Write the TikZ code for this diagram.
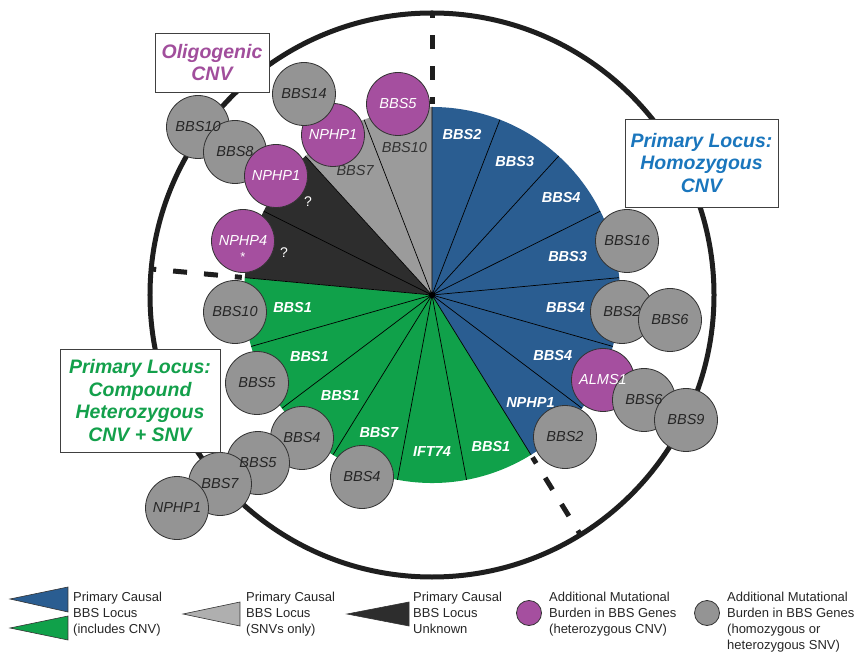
\documentclass[tikz,border=0pt]{standalone}
\usepackage{fontspec}
\setmainfont{Liberation Sans}
\usepackage{tikz}
\usetikzlibrary{positioning}
\usepackage{xcolor}
\definecolor{locusblue}{HTML}{2A5D91}
\definecolor{locusgreen}{HTML}{10A14A}
\definecolor{snvgray}{HTML}{9B9B9B}
\definecolor{unkblack}{HTML}{2D2D2D}
\definecolor{cnvpurple}{HTML}{A54F9F}
\definecolor{dotgray}{HTML}{949494}
\definecolor{titleblue}{HTML}{1A76BD}
\definecolor{titlegreen}{HTML}{13A04B}
\definecolor{titlepurple}{HTML}{A14E9C}
\definecolor{rim}{HTML}{1E1E1E}
\tikzset{
  divider/.style={draw=rim, line width=5pt, dash pattern=on 14pt off 17pt, dash phase=7pt},
  gene/.style={circle, draw=black!80, line width=0.8pt, minimum size=63pt, inner sep=0pt},
  cnv/.style={gene, fill=cnvpurple},
  snv/.style={gene, fill=dotgray},
  genetxt/.style={inner sep=0pt, font=\fontsize{14.5}{16}\selectfont\itshape, text=black!85},
  cnvtxt/.style={genetxt, text=white},
}

\begin{document}
\begin{tikzpicture}[x=1pt, y=1pt,
            tag/.style={font=\fontsize{14.5}{16}\selectfont\bfseries\itshape, text=white, inner sep=0pt},
            tagsnv/.style={tag, font=\fontsize{14.5}{16}\selectfont\itshape, text=black!80},
            spoke/.style={draw=black, line width=0.7pt},
            callout/.style={draw=black!75, line width=0.9pt, fill=white, align=center, inner sep=0pt, font=\fontsize{19.5}{22.5}\selectfont\bfseries\itshape},
            legtext/.style={align=left, inner sep=0pt, anchor=north west, font=\fontsize{13}{16}\selectfont, text=black!85},
            legwedge/.style={draw=black!80, line width=0.6pt}]
            \useasboundingbox (-432,-357) rectangle (426,295);

            % outer ring
            \draw[draw=rim, line width=5pt] (0,0) circle[radius=282pt];

            % pie, one colour per group
            \fill[locusblue] (0,0) -- (90:188) arc[start angle=90, end angle=-58.235, radius=188pt] -- cycle;
            \fill[locusgreen] (0,0) -- (-58.235:188) arc[start angle=-58.235, end angle=-185.294, radius=188pt] -- cycle;
            \fill[unkblack] (0,0) -- (174.706:188) arc[start angle=174.706, end angle=132.353, radius=188pt] -- cycle;
            \fill[snvgray] (0,0) -- (132.353:188) arc[start angle=132.353, end angle=90, radius=188pt] -- cycle;
            \draw[spoke] (0,0) -- (90:188) (0,0) -- (68.824:188) (0,0) -- (47.647:188)
                         (0,0) -- (26.471:188) (0,0) -- (5.294:188) (0,0) -- (-15.882:188)
                         (0,0) -- (-37.059:188) (0,0) -- (-58.235:188) (0,0) -- (-79.412:188)
                         (0,0) -- (-100.588:188) (0,0) -- (-121.765:188) (0,0) -- (-142.941:188)
                         (0,0) -- (-164.118:188) (0,0) -- (174.706:188) (0,0) -- (153.529:188)
                         (0,0) -- (132.353:188) (0,0) -- (111.176:188);

            \node[tag] (hom1) at (79.4:163) {BBS2};
            \node[tag] (hom2) at (58.2:157) {BBS3};
            \node[tag] (hom3) at (37.1:162) {BBS4};
            \node[tag] (hom4) at (15.9:141) {BBS3};
            \node[tag] (hom5) at (-5.3:134) {BBS4};
            \node[tag] (hom6) at (-26.5:135) {BBS4};
            \node[tag] (hom7) at (-47.6:146) {NPHP1};
            \node[tag] (cmp1) at (-68.8:163) {BBS1};
            \node[tag] (cmp2) at (-90:157) {IFT74};
            \node[tag] (cmp3) at (-111.2:147) {BBS7};
            \node[tag] (cmp4) at (-132.4:136) {BBS1};
            \node[tag] (cmp5) at (-153.5:137) {BBS1};
            \node[tag] (cmp6) at (-174.7:140) {BBS1};
            \node[tag, font=\fontsize{14}{15}\selectfont] (unk1) at (164.1:154) {?};
            \node[tag, font=\fontsize{14}{15}\selectfont] (unk2) at (143.1:155) {?};
            \node[tagsnv] (snv1) at (121.8:146) {BBS7};
            \node[tagsnv] (snv2) at (100.6:150) {BBS10};

            % extra burden, right side
            \node[snv] (bbs16) at (195,54) {};
            \node[snv] (bbs2a) at (190,-17) {};
            \node[snv] (bbs6a) at (238,-25) {};
            \node[cnv] (alms1) at (171,-85) {};
            \node[snv] (bbs6b) at (212,-105) {};
            \node[snv] (bbs9) at (254,-125) {};
            \node[snv] (bbs2b) at (133,-142) {};
            % extra burden, lower left
            \node[snv] (bbs4a) at (-70,-182) {};
            \node[snv] (bbs4b) at (-130,-143) {};
            \node[snv] (bbs5b) at (-174,-168) {};
            \node[snv] (bbs7c) at (-212,-189) {};
            \node[snv] (nphp1c) at (-255,-213) {};
            \node[snv] (bbs5a) at (-175,-88) {};
            \node[snv] (bbs10a) at (-197,-17) {};
            % extra burden, upper left
            \node[cnv] (nphp4) at (-189,54) {};
            \node[snv] (bbs10b) at (-234,168) {};
            \node[snv] (bbs8) at (-197,143) {};
            \node[cnv] (nphp1a) at (-156,119) {};
            \node[cnv] (nphp1b) at (-99,160) {};
            \node[snv] (bbs14) at (-128,201) {};
            \node[cnv] (bbs5) at (-34,191) {};

            % gene names go on top of every disc
            \node[genetxt] (bbs16-t) at (bbs16) {BBS16};
            \node[genetxt] (bbs2a-t) at (bbs2a) {BBS2};
            \node[genetxt] (bbs6a-t) at (bbs6a) {BBS6};
            \node[cnvtxt] (alms1-t) at (alms1) {ALMS1};
            \node[genetxt] (bbs6b-t) at (bbs6b) {BBS6};
            \node[genetxt] (bbs9-t) at (bbs9) {BBS9};
            \node[genetxt] (bbs2b-t) at (bbs2b) {BBS2};
            \node[genetxt] (bbs4a-t) at (bbs4a) {BBS4};
            \node[genetxt] (bbs4b-t) at (bbs4b) {BBS4};
            \node[genetxt] (bbs5b-t) at (bbs5b) {BBS5};
            \node[genetxt] (bbs7c-t) at (bbs7c) {BBS7};
            \node[genetxt] (nphp1c-t) at (nphp1c) {NPHP1};
            \node[genetxt] (bbs5a-t) at (bbs5a) {BBS5};
            \node[genetxt] (bbs10a-t) at (bbs10a) {BBS10};
            \node[cnvtxt] (nphp4-t) at (nphp4) {NPHP4};
            \node[cnvtxt, font=\fontsize{13}{14}\selectfont, below=11pt of nphp4.center] (nphp4star) {*};
            \node[genetxt] (bbs10b-t) at (bbs10b) {BBS10};
            \node[genetxt] (bbs8-t) at (bbs8) {BBS8};
            \node[cnvtxt] (nphp1a-t) at (nphp1a) {NPHP1};
            \node[cnvtxt] (nphp1b-t) at (nphp1b) {NPHP1};
            \node[genetxt] (bbs14-t) at (bbs14) {BBS14};
            \node[cnvtxt] (bbs5-t) at (bbs5) {BBS5};

            % group borders
            \draw[divider] (90:191) -- (90:283);
            \draw[divider] (174.706:191) -- (174.706:283);
            \draw[divider] (-58.235:191) -- (-58.235:283);

            \node[callout, text=titleblue, minimum width=153pt, minimum height=88pt] (homo) at (269.5,132) {Primary Locus:\\Homozygous\\CNV};
            \node[callout, text=titlegreen, minimum width=160pt, minimum height=103pt] (compound) at (-292,-105.5) {Primary Locus:\\Compound\\Heterozygous\\CNV + SNV};
            \node[callout, text=titlepurple, minimum width=114pt, minimum height=59pt] (oligo) at (-220,232.5) {Oligogenic\\CNV};

            % legend
            \draw[legwedge, fill=locusblue] (-422,-304) -- (-364,-292) -- (-364,-317) -- cycle;
            \draw[legwedge, fill=locusgreen] (-422,-333) -- (-364,-321) -- (-364,-345) -- cycle;
            \draw[legwedge, fill=snvgray!80] (-249,-319) -- (-192,-307) -- (-192,-331) -- cycle;
            \draw[legwedge, fill=unkblack] (-85,-319) -- (-23,-307) -- (-23,-331) -- cycle;
            \node[cnv, minimum size=25pt] (legcnv) at (97,-318) {};
            \node[snv, minimum size=25pt] (legsnv) at (275,-318) {};
            \node[legtext] (legA) at (-359,-297) {Primary Causal\\BBS Locus\\(includes CNV)};
            \node[legtext] (legB) at (-186,-297) {Primary Causal\\BBS Locus\\(SNVs only)};
            \node[legtext] (legC) at (-19,-297) {Primary Causal\\BBS Locus\\Unknown};
            \node[legtext] (legD) at (117,-297) {Additional Mutational\\Burden in BBS Genes\\(heterozygous CNV)};
            \node[legtext] (legE) at (295,-297) {Additional Mutational\\Burden in BBS Genes\\(homozygous or\\heterozygous SNV)};
\end{tikzpicture}
\end{document}
